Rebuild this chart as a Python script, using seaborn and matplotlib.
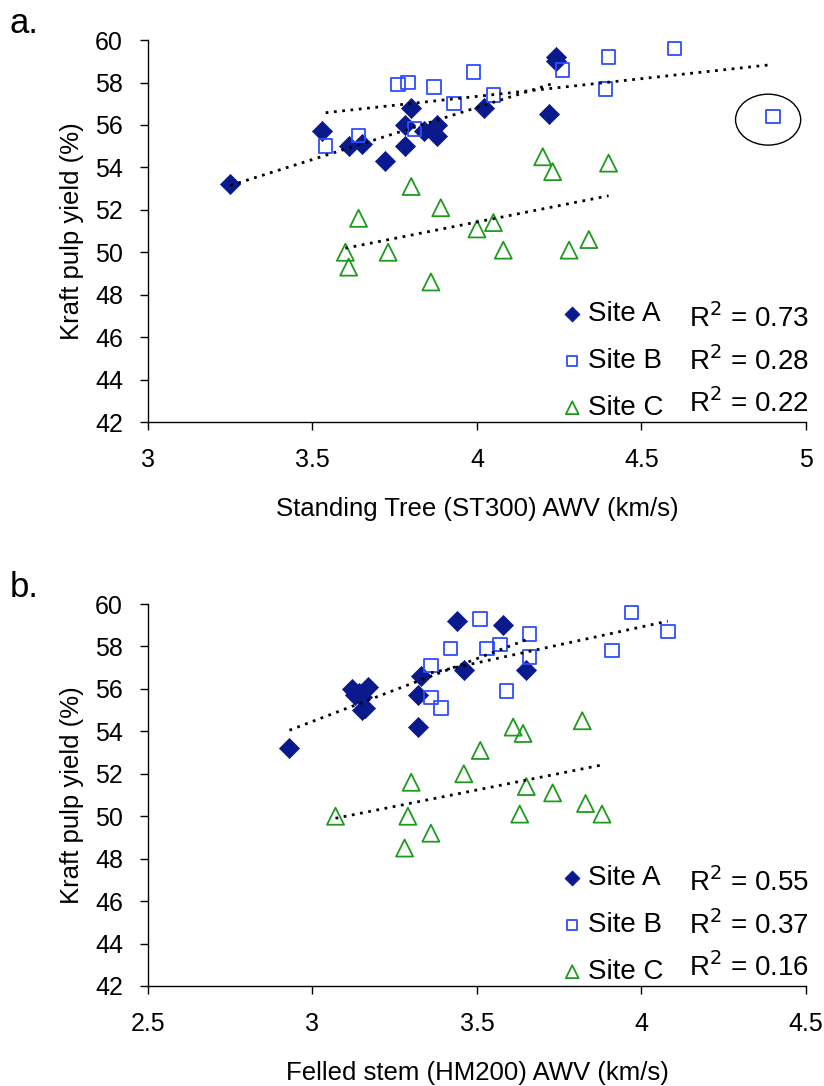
import pandas as pd
import matplotlib
matplotlib.use("Agg")
import matplotlib.pyplot as plt
import seaborn as sns
from matplotlib.patches import Ellipse

# ---- data ----
# panel a: standing tree (ST300)
a_st_x = [3.25, 3.53, 3.61, 3.65, 3.72, 3.78, 3.78, 3.80, 3.84, 3.88, 3.88, 4.02, 4.24, 4.24, 4.22]
a_st_y = [53.2, 55.7, 55.0, 55.1, 54.3, 55.0, 56.0, 56.8, 55.7, 56.0, 55.5, 56.8, 59.2, 59.0, 56.5]
b_st_x = [3.54, 3.64, 3.76, 3.79, 3.87, 3.81, 3.93, 3.99, 4.05, 4.26, 4.40, 4.39, 4.60, 4.90]
b_st_y = [55.0, 55.5, 57.9, 58.0, 57.8, 55.8, 57.0, 58.5, 57.4, 58.6, 59.2, 57.7, 59.6, 56.4]
c_st_x = [3.80, 3.89, 3.64, 3.60, 3.61, 3.73, 3.86, 4.00, 4.05, 4.08, 4.20, 4.23, 4.40, 4.28, 4.34]
c_st_y = [53.1, 52.1, 51.6, 50.0, 49.3, 50.0, 48.6, 51.1, 51.4, 50.1, 54.5, 53.8, 54.2, 50.1, 50.6]

# panel b: felled stem (HM200)
a_hm_x = [2.93, 3.12, 3.14, 3.17, 3.16, 3.15, 3.13, 3.15, 3.33, 3.32, 3.32, 3.44, 3.46, 3.58, 3.65]
a_hm_y = [53.2, 56.0, 55.8, 56.1, 55.1, 55.0, 55.7, 55.6, 56.6, 55.7, 54.2, 59.2, 56.9, 59.0, 56.9]
b_hm_x = [3.51, 3.42, 3.36, 3.53, 3.57, 3.66, 3.66, 3.36, 3.39, 3.59, 3.97, 4.08, 3.91]
b_hm_y = [59.3, 57.9, 57.1, 57.9, 58.1, 58.6, 57.5, 55.6, 55.1, 55.9, 59.6, 58.7, 57.8]
c_hm_x = [3.07, 3.30, 3.29, 3.36, 3.28, 3.46, 3.51, 3.61, 3.64, 3.65, 3.73, 3.63, 3.82, 3.83, 3.88]
c_hm_y = [50.0, 51.6, 50.0, 49.2, 48.5, 52.0, 53.1, 54.2, 53.9, 51.4, 51.1, 50.1, 54.5, 50.6, 50.1]

sites = ["Site A", "Site B", "Site C"]
r2_st = ["0.73", "0.28", "0.22"]
r2_hm = ["0.55", "0.37", "0.16"]

# ---- style ----
sns.set_style("ticks")
plt.rcParams['font.family'] = ['Liberation Sans', 'DejaVu Sans']
plt.rcParams['text.color'] = 'black'
plt.rcParams['axes.labelcolor'] = 'black'
plt.rcParams['xtick.color'] = 'black'
plt.rcParams['ytick.color'] = 'black'

navy = '#0a1a8c'
blue = '#2f4dff'
green = '#1f9a1f'

fig = plt.figure(figsize=(8.24, 10.86), dpi=100)
ax1 = fig.add_axes([0.1796, 0.6114, 0.7985, 0.3517])
ax2 = fig.add_axes([0.1796, 0.0921, 0.7985, 0.3517])


def draw_panel(ax, ax_x, ay, bx, by, cx, cy, r2, xlabel, xlim, xticks):
    # points
    sns.scatterplot(x=ax_x, y=ay, ax=ax, marker='D', s=105, color=navy,
                    edgecolor=navy, linewidth=0.5, label=sites[0])
    sns.scatterplot(x=bx, y=by, ax=ax, marker='s', s=95, color=blue,
                    facecolor='none', edgecolor=blue, linewidth=1.3, label=sites[1])
    sns.scatterplot(x=cx, y=cy, ax=ax, marker='^', s=150, color=green,
                    facecolor='none', edgecolor=green, linewidth=1.3, label=sites[2])

    # linear trend lines
    for x, y in [(ax_x, ay), (bx, by), (cx, cy)]:
        sns.regplot(x=x, y=y, ax=ax, scatter=False, ci=None, truncate=True,
                    line_kws=dict(color='black', ls=(0, (1, 2)), lw=2))

    ax.set_xlim(xlim)
    ax.set_ylim(42, 60)
    ax.set_xticks(xticks)
    ax.set_yticks(range(42, 61, 2))
    ax.set_xticklabels([f"{t:g}" for t in xticks])
    ax.tick_params(axis='both', labelsize=18, length=6, width=1)
    ax.tick_params(axis='x', pad=13)
    ax.tick_params(axis='y', pad=12)
    for s in ['left', 'bottom']:
        ax.spines[s].set_color('black')
        ax.spines[s].set_linewidth(1)
    sns.despine(ax=ax)
    ax.set_xlabel(xlabel, fontsize=18.5, labelpad=18)
    ax.set_ylabel("Kraft pulp yield (%)", fontsize=18.5, labelpad=8)

    ax.legend(loc='upper left', bbox_to_anchor=(0.611, 0.345), frameon=False,
              fontsize=20, markerscale=0.75, handlelength=0.8, handletextpad=0.15,
              labelspacing=0.75, borderaxespad=0)
    rows = [0.272, 0.160, 0.050]
    for i, r in enumerate(r2):
        ax.text(0.822, rows[i], "R$^2$ = " + r, transform=ax.transAxes,
                fontsize=20, va='center', ha='left')


draw_panel(ax1, a_st_x, a_st_y, b_st_x, b_st_y, c_st_x, c_st_y, r2_st,
           "Standing Tree (ST300) AWV (km/s)", (3, 5), [3, 3.5, 4, 4.5, 5])
draw_panel(ax2, a_hm_x, a_hm_y, b_hm_x, b_hm_y, c_hm_x, c_hm_y, r2_hm,
           "Felled stem (HM200) AWV (km/s)", (2.5, 4.5), [2.5, 3, 3.5, 4, 4.5])

# circle around the outlying Site B tree in panel a
ax1.add_patch(Ellipse((b_st_x[-1] - 0.015, b_st_y[-1] - 0.15), 0.198, 2.4,
                      fill=False, edgecolor='black', lw=1))

fig.text(0.012, 0.9696, "a.", fontsize=25, va='baseline')
fig.text(0.012, 0.4503, "b.", fontsize=25, va='baseline')

plt.savefig("out.png", dpi=100)
